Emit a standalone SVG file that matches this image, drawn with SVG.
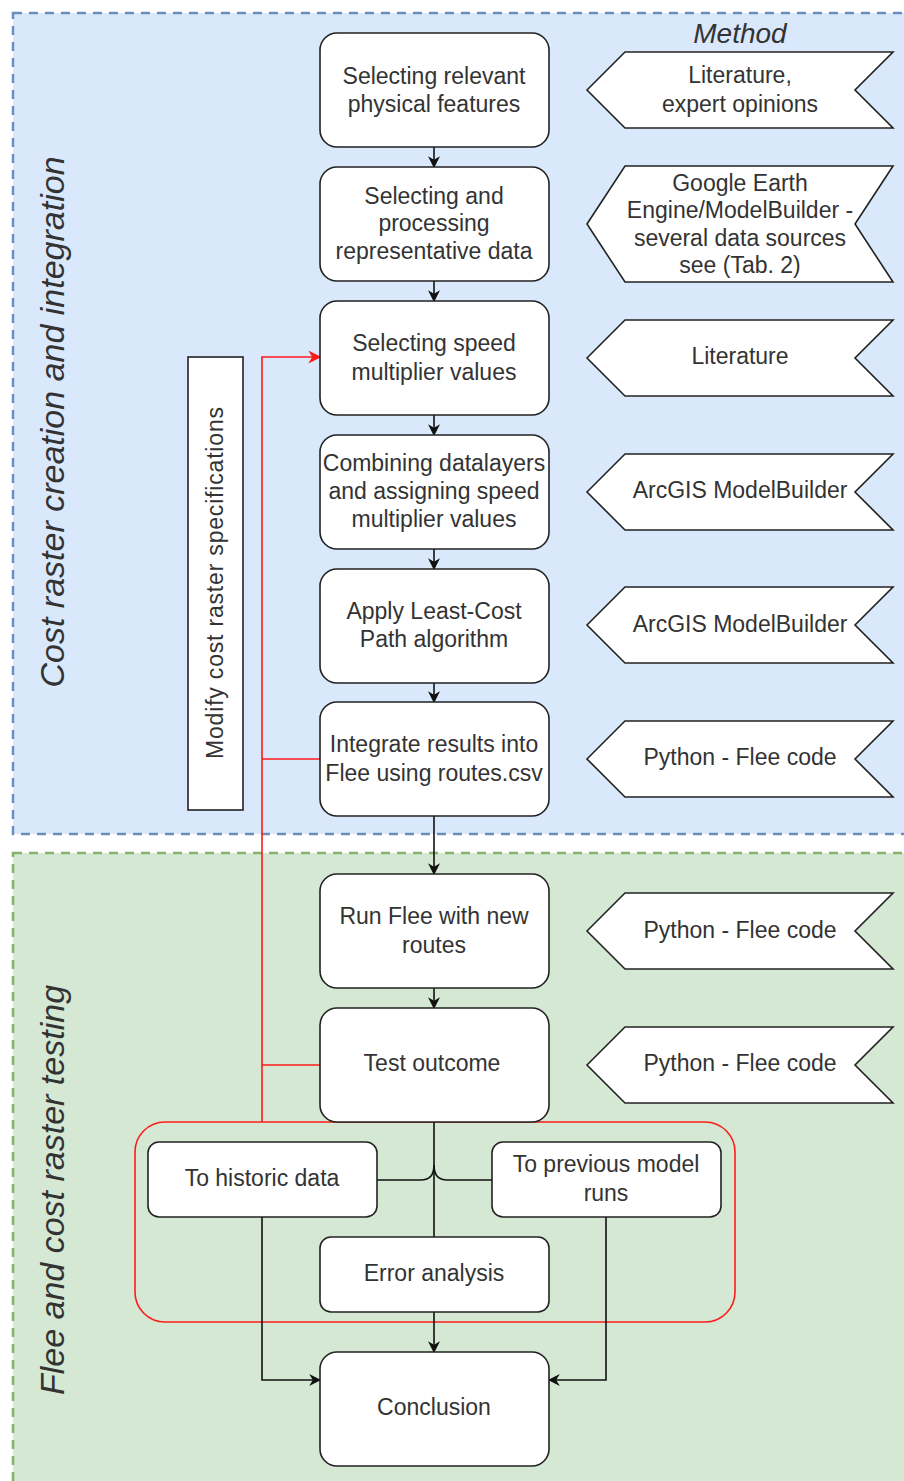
<svg xmlns="http://www.w3.org/2000/svg" width="904" height="1481" viewBox="0 0 904 1481">
<style>
.t{font-family:"Liberation Sans",Arial,sans-serif;font-size:23px;fill:#333;text-anchor:middle}
.it{font-style:italic}
.box{fill:#fff;stroke:#222;stroke-width:1.6}
.step{fill:#fff;stroke:#222;stroke-width:1.6}
.ln{fill:none;stroke:#111;stroke-width:1.6}
.red{fill:none;stroke:#ff1a1a;stroke-width:1.6}
</style>
<defs>
<marker id="ah" viewBox="0 0 10 10" refX="9" refY="5" markerWidth="12" markerHeight="12" markerUnits="userSpaceOnUse" orient="auto">
<path d="M0,0 L10,5 L0,10 L3,5 z" fill="#111"/>
</marker>
<marker id="ahr" viewBox="0 0 10 10" refX="9" refY="5" markerWidth="13" markerHeight="13" markerUnits="userSpaceOnUse" orient="auto">
<path d="M0,0 L10,5 L0,10 L3,5 z" fill="#ff1a1a"/>
</marker>
</defs>

<g id="container-cost">
<rect x="13" y="13" width="910" height="821" fill="#dae8fc" stroke="#6c8ebf" stroke-width="2.5" stroke-dasharray="9 7"/>
<text class="t it" transform="translate(64,422) rotate(-90)" style="font-size:34px">Cost raster creation and integration</text>
<text class="t it" x="740" y="43" style="font-size:28px">Method</text>
</g>
<g id="container-test">
<rect x="13" y="853" width="910" height="660" fill="#d5e8d4" stroke="#82b366" stroke-width="2.5" stroke-dasharray="9 7"/>
<text class="t it" transform="translate(64,1190) rotate(-90)" style="font-size:34px">Flee and cost raster testing</text>
</g>

<g id="red-group">
<rect x="135" y="1122" width="600" height="200" rx="30" class="red"/>
</g>

<g id="connectors">
<line class="ln" x1="434" y1="147" x2="434" y2="167" marker-end="url(#ah)"/>
<line class="ln" x1="434" y1="281" x2="434" y2="301" marker-end="url(#ah)"/>
<line class="ln" x1="434" y1="415" x2="434" y2="435" marker-end="url(#ah)"/>
<line class="ln" x1="434" y1="549" x2="434" y2="569" marker-end="url(#ah)"/>
<line class="ln" x1="434" y1="683" x2="434" y2="702" marker-end="url(#ah)"/>
<line class="ln" x1="434" y1="816" x2="434" y2="874" marker-end="url(#ah)"/>
<line class="ln" x1="434" y1="988" x2="434" y2="1008" marker-end="url(#ah)"/>
<line class="ln" x1="434" y1="1122" x2="434" y2="1237"/>
<path class="ln" d="M377,1180 H421 C429,1180 434,1176 434,1165 C434,1176 439,1180 447,1180 H492"/>
<line class="ln" x1="434" y1="1312" x2="434" y2="1352" marker-end="url(#ah)"/>
<path class="ln" d="M262,1217 V1380 H320" marker-end="url(#ah)"/>
<path class="ln" d="M606,1217 V1380 H549" marker-end="url(#ah)"/>
<path class="red" d="M262,1122 V357 H320" marker-end="url(#ahr)"/>
<line class="red" x1="262" y1="759" x2="320" y2="759"/>
<line class="red" x1="262" y1="1065" x2="320" y2="1065"/>
</g>

<g id="modify">
<rect x="188" y="357" width="55" height="453" fill="#fff" stroke="#222" stroke-width="1.6"/>
<text class="t" transform="translate(223,583) rotate(-90)" textLength="352" lengthAdjust="spacing">Modify cost raster specifications</text>
</g>

<g id="n1"><rect class="box" x="320" y="33" width="229" height="114" rx="17"/>
<text class="t" x="434" y="84">Selecting relevant</text><text class="t" x="434" y="112">physical features</text></g>
<g id="n2"><rect class="box" x="320" y="167" width="229" height="114" rx="17"/>
<text class="t" x="434" y="204">Selecting and</text><text class="t" x="434" y="231">processing</text><text class="t" x="434" y="259">representative data</text></g>
<g id="n3"><rect class="box" x="320" y="301" width="229" height="114" rx="17"/>
<text class="t" x="434" y="351">Selecting speed</text><text class="t" x="434" y="380">multiplier values</text></g>
<g id="n4"><rect class="box" x="320" y="435" width="229" height="114" rx="17"/>
<text class="t" x="434" y="471">Combining datalayers</text><text class="t" x="434" y="499">and assigning speed</text><text class="t" x="434" y="527">multiplier values</text></g>
<g id="n5"><rect class="box" x="320" y="569" width="229" height="114" rx="17"/>
<text class="t" x="434" y="619">Apply Least-Cost</text><text class="t" x="434" y="647">Path algorithm</text></g>
<g id="n6"><rect class="box" x="320" y="702" width="229" height="114" rx="17"/>
<text class="t" x="434" y="752">Integrate results into</text><text class="t" x="434" y="781">Flee using routes.csv</text></g>
<g id="n7"><rect class="box" x="320" y="874" width="229" height="114" rx="17"/>
<text class="t" x="434" y="924">Run Flee with new</text><text class="t" x="434" y="953">routes</text></g>
<g id="n8"><rect class="box" x="320" y="1008" width="229" height="114" rx="17"/>
<text class="t" x="432" y="1071">Test outcome</text></g>
<g id="n9"><rect class="box" x="148" y="1142" width="229" height="75" rx="11"/>
<text class="t" x="262" y="1186">To historic data</text></g>
<g id="n10"><rect class="box" x="492" y="1142" width="229" height="75" rx="11"/>
<text class="t" x="606" y="1172">To previous model</text><text class="t" x="606" y="1201">runs</text></g>
<g id="n11"><rect class="box" x="320" y="1237" width="229" height="75" rx="11"/>
<text class="t" x="434" y="1281">Error analysis</text></g>
<g id="n12"><rect class="box" x="320" y="1352" width="229" height="114" rx="17"/>
<text class="t" x="434" y="1415">Conclusion</text></g>

<g id="m1"><polygon class="step" points="587,90 625,52 893,52 855,90 893,128 625,128"/>
<text class="t" x="740" y="83">Literature,</text><text class="t" x="740" y="112">expert opinions</text></g>
<g id="m2"><polygon class="step" points="587,224 625,166 893,166 855,224 893,282 625,282"/>
<text class="t" x="740" y="191">Google Earth</text><text class="t" x="740" y="218">Engine/ModelBuilder -</text><text class="t" x="740" y="246">several data sources</text><text class="t" x="740" y="273">see (Tab. 2)</text></g>
<g id="m3"><polygon class="step" points="587,358 625,320 893,320 855,358 893,396 625,396"/>
<text class="t" x="740" y="364">Literature</text></g>
<g id="m4"><polygon class="step" points="587,492 625,454 893,454 855,492 893,530 625,530"/>
<text class="t" x="740" y="498">ArcGIS ModelBuilder</text></g>
<g id="m5"><polygon class="step" points="587,625 625,587 893,587 855,625 893,663 625,663"/>
<text class="t" x="740" y="632">ArcGIS ModelBuilder</text></g>
<g id="m6"><polygon class="step" points="587,759 625,721 893,721 855,759 893,797 625,797"/>
<text class="t" x="740" y="765">Python - Flee code</text></g>
<g id="m7"><polygon class="step" points="587,931 625,893 893,893 855,931 893,969 625,969"/>
<text class="t" x="740" y="938">Python - Flee code</text></g>
<g id="m8"><polygon class="step" points="587,1065 625,1027 893,1027 855,1065 893,1103 625,1103"/>
<text class="t" x="740" y="1071">Python - Flee code</text></g>
</svg>
